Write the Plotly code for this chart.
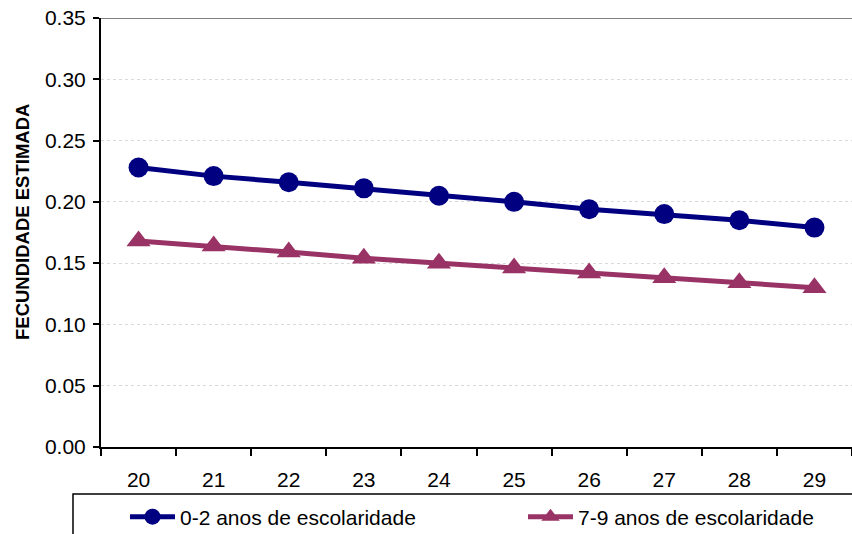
import plotly.graph_objects as go

ages = ["20", "21", "22", "23", "24", "25", "26", "27", "28", "29"]
serie_0_2 = [0.228, 0.221, 0.216, 0.211, 0.205, 0.200, 0.194, 0.190, 0.185, 0.179]
serie_7_9 = [0.168, 0.164, 0.159, 0.154, 0.150, 0.146, 0.142, 0.138, 0.134, 0.130]
names = ["0-2 anos de escolaridade", "7-9 anos de escolaridade"]
y_ticks = [0.00, 0.05, 0.10, 0.15, 0.20, 0.25, 0.30, 0.35]

W, H = 852, 534
L, R, T, B = 101, 0, 18, 87
pw = W - L - R
ph = H - T - B

def px_to_paper_x(px):
    return (px - L) / pw

def px_to_paper_y(py):
    return (H - B - py) / ph

fig = go.Figure()
fig.add_trace(go.Scatter(
    x=ages, y=serie_0_2, name=names[0], mode="lines+markers",
    line=dict(color="#000080", width=5),
    marker=dict(symbol="circle", size=20, color="#000080"),
    legend="legend",
))
fig.add_trace(go.Scatter(
    x=ages, y=serie_7_9, name=names[1], mode="lines+markers",
    line=dict(color="#993366", width=5),
    marker=dict(symbol="triangle-up", size=21, color="#993366"),
    legend="legend2",
))

font = "Liberation Sans, Arial, sans-serif"
legend_common = dict(
    orientation="h",
    xanchor="left",
    y=px_to_paper_y(517), yanchor="middle",
    itemwidth=45,
    font=dict(family=font, size=21, color="black"),
    bgcolor="rgba(0,0,0,0)",
)

fig.update_layout(
    width=W, height=H,
    margin=dict(l=L, r=R, t=T, b=B, autoexpand=False),
    paper_bgcolor="white", plot_bgcolor="white",
    font=dict(family=font, size=21, color="black"),
    showlegend=True,
    legend=dict(x=px_to_paper_x(125), **legend_common),
    legend2=dict(x=px_to_paper_x(523), **legend_common),
    xaxis=dict(
        type="category",
        range=[-0.5, 9.5],
        showline=True, linecolor="black", linewidth=2,
        ticks="outside", tickson="boundaries", ticklen=7, tickwidth=2, tickcolor="black",
        showgrid=False,
        tickfont=dict(family=font, size=21),
        ticklabelstandoff=13,
        automargin=False,
        fixedrange=True,
    ),
    yaxis=dict(
        range=[0, 0.35],
        tickvals=y_ticks,
        tickformat=".2f",
        showline=True, linecolor="black", linewidth=2,
        ticks="outside", ticklen=6, tickwidth=2, tickcolor="black",
        showgrid=True, gridcolor="#d9d9d9", griddash="dot", gridwidth=1,
        zeroline=False,
        tickfont=dict(family=font, size=21),
        ticklabelstandoff=3,
        automargin=False,
        fixedrange=True,
    ),
    shapes=[
        dict(type="line", xref="paper", yref="y", x0=0, x1=1, y0=0.35, y1=0.35,
             line=dict(color="#808080", width=2)),
        dict(type="rect", xref="paper", yref="paper",
             x0=px_to_paper_x(73), x1=px_to_paper_x(870),
             y0=px_to_paper_y(560), y1=px_to_paper_y(494),
             line=dict(color="black", width=1.5), fillcolor="rgba(0,0,0,0)"),
    ],
    annotations=[
        dict(text="<b>FECUNDIDADE ESTIMADA</b>", textangle=-90,
             xref="paper", yref="paper",
             x=px_to_paper_x(22), y=px_to_paper_y(222),
             xanchor="center", yanchor="middle", showarrow=False,
             font=dict(family=font, size=18.5, color="black")),
    ],
)

fig.write_html(
    "out.html",
    config={"displayModeBar": False},
    post_script="document.body.style.margin='0';document.body.style.overflow='hidden';",
)
